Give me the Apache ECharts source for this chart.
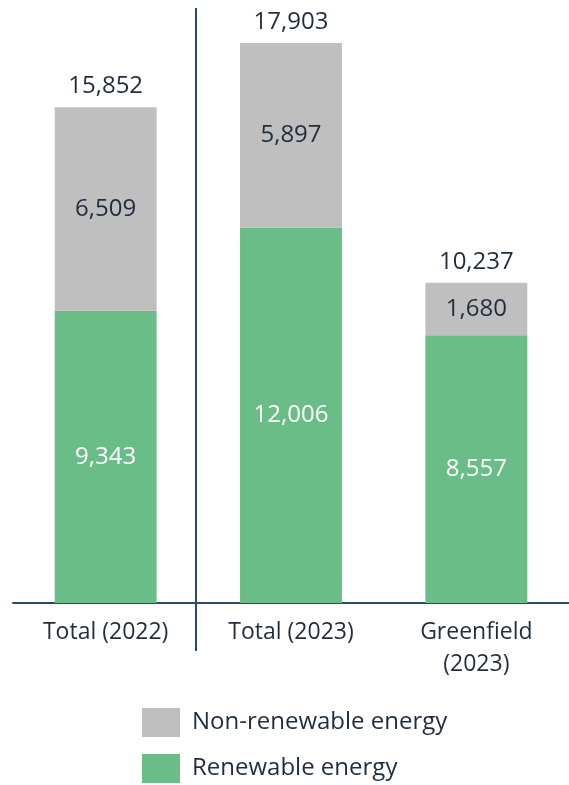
<!DOCTYPE html>
<html>
<head>
<meta charset="utf-8">
<script src="https://cdn.jsdelivr.net/npm/echarts@6/dist/echarts.min.js"></script>
<style>
  html, body { margin: 0; padding: 0; background: #fff; }
  #chart { width: 569px; height: 785px; }
</style>
</head>
<body>
<div id="chart"></div>
<script>
// categories and values
const categories = ['Total (2022)', 'Total (2023)', 'Greenfield\n(2023)'];
const renewable = [9343, 12006, 8557];
const nonRenewable = [6509, 5897, 1680];
const totals = [15852, 17903, 10237];

const fontFamily = '"Open Sans", Lato, sans-serif';
const textColor = '#1f2d3d';
const axisColor = '#2e4a6b';

const fmt = v => v.toLocaleString('en-US');

const chart = echarts.init(document.getElementById('chart'));

const option = {
    animation: false,
    textStyle: { fontFamily: fontFamily },
    grid: { left: 13, right: -4, top: 40, bottom: 182 },
    legend: {
        orient: 'vertical',
        left: 142,
        top: 708,
        padding: 0,
        itemWidth: 38,
        itemHeight: 29,
        itemGap: 17,
        icon: 'rect',
        textStyle: { fontSize: 24, color: textColor, fontFamily: fontFamily, padding: [0, 0, 0, 7] },
        data: ['Non-renewable energy', 'Renewable energy']
    },
    xAxis: {
        type: 'category',
        data: categories,
        axisTick: { show: false },
        axisLine: { lineStyle: { color: axisColor, width: 2 } },
        axisLabel: { fontSize: 23, color: textColor, margin: 13, lineHeight: 32, interval: 0 }
    },
    yAxis: {
        type: 'value',
        min: 0,
        max: 18000,
        show: false,
        splitLine: { show: false }
    },
    series: [
        {
            name: 'Renewable energy',
            type: 'bar',
            stack: 'e',
            barWidth: '55%',
            data: renewable,
            itemStyle: { color: '#6bbd87' },
            label: { show: true, position: 'inside', fontSize: 24, color: '#fff', formatter: p => fmt(p.value) }
        },
        {
            name: 'Non-renewable energy',
            type: 'bar',
            stack: 'e',
            barWidth: '55%',
            data: nonRenewable,
            itemStyle: { color: '#bfbfbf' },
            label: { show: true, position: 'inside', fontSize: 24, color: textColor, formatter: p => fmt(p.value) }
        },
        {
            name: 'Total',
            type: 'bar',
            stack: 'e',
            barWidth: '55%',
            data: totals.map(() => 0),
            itemStyle: { color: 'transparent' },
            label: {
                show: true, position: 'top', distance: 9, fontSize: 24, color: textColor,
                formatter: p => fmt(totals[p.dataIndex])
            }
        }
    ]
};

chart.setOption(option);

// separator between 2022 and 2023, a bit left of halfway between the first two categories
const p0 = chart.convertToPixel({ xAxisIndex: 0 }, 0);
const p1 = chart.convertToPixel({ xAxisIndex: 0 }, 1);
const sepX = Math.round((p0 + p1) / 2) - 2;
chart.setOption({
    graphic: [{
        type: 'line',
        shape: { x1: sepX, y1: 8, x2: sepX, y2: 651 },
        style: { stroke: axisColor, lineWidth: 2 }
    }]
});
</script>
</body>
</html>
